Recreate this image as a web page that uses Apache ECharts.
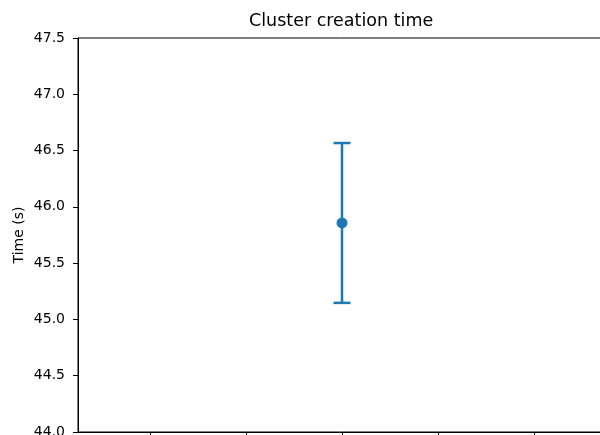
<!DOCTYPE html>
<html>
<head>
<meta charset="utf-8">
<script src="https://cdn.jsdelivr.net/npm/echarts@6/dist/echarts.min.js"></script>
<style>html,body{margin:0;padding:0;background:#fff}#c{width:600px;height:435px}</style>
</head>
<body>
<div id="c"></div>
<script>
const titleText = 'Cluster creation time';
const yName = 'Time (s)';
const xPositions = [0];
const means = [45.857];
const errors = [0.71];
const xTicks = [-0.04, -0.02, 0, 0.02, 0.04];
const yTicks = [44.0, 44.5, 45.0, 45.5, 46.0, 46.5, 47.0, 47.5];

const chart = echarts.init(document.getElementById('c'), null, {renderer: 'canvas'});
const color = '#1f77b4';
const data = xPositions.map((x, i) => [x, means[i], means[i] - errors[i], means[i] + errors[i]]);

chart.setOption({
  animation: false,
  title: {
    text: titleText, left: 249, top: 12, padding: 0,
    textStyle: {fontFamily: 'DejaVu Sans', fontSize: 17.5, fontWeight: 'normal', color: '#000'}
  },
  grid: {left: 78, top: 38, width: 528, height: 394, outerBoundsMode: 'none', containLabel: false,
    show: true, borderColor: '#000', borderWidth: 1, backgroundColor: 'transparent'},
  xAxis: {
    type: 'value', min: -0.055, max: 0.055,
    axisLine: {show: true, onZero: false, lineStyle: {color: '#000', width: 1}},
    axisTick: {show: true, customValues: xTicks, length: 5, inside: false, lineStyle: {color: '#000'}},
    axisLabel: {show: false},
    splitLine: {show: false}
  },
  yAxis: {
    type: 'value', min: yTicks[0], max: yTicks[yTicks.length - 1], interval: 0.5,
    name: yName, nameLocation: 'middle', nameGap: 52, nameRotate: 90,
    nameMoveOverlap: false,
    nameTextStyle: {fontFamily: 'DejaVu Sans', fontSize: 14, color: '#000'},
    axisLine: {show: true, onZero: false, lineStyle: {color: '#000', width: 1}},
    axisTick: {show: true, length: 5, lineStyle: {color: '#000'}},
    axisLabel: {fontFamily: 'DejaVu Sans', fontSize: 14, color: '#000', margin: 13, formatter: v => v.toFixed(1)},
    splitLine: {show: false}
  },
  series: [{
    type: 'custom',
    data: data,
    encode: {x: 0, y: [1, 2, 3]},
    clip: false,
    renderItem: function (params, api) {
      const x = api.value(0);
      const top = api.coord([x, api.value(3)]);
      const bot = api.coord([x, api.value(2)]);
      const mid = api.coord([x, api.value(1)]);
      const cap = 8.5;
      const st = {stroke: color, lineWidth: 2.5};
      return {
        type: 'group',
        children: [
          {type: 'line', shape: {x1: top[0], y1: top[1], x2: bot[0], y2: bot[1]}, style: st},
          {type: 'line', shape: {x1: top[0] - cap, y1: top[1], x2: top[0] + cap, y2: top[1]}, style: st},
          {type: 'line', shape: {x1: bot[0] - cap, y1: bot[1], x2: bot[0] + cap, y2: bot[1]}, style: st},
          {type: 'circle', shape: {cx: mid[0], cy: mid[1], r: 5.5}, style: {fill: color}}
        ]
      };
    }
  }]
});
</script>
</body>
</html>
